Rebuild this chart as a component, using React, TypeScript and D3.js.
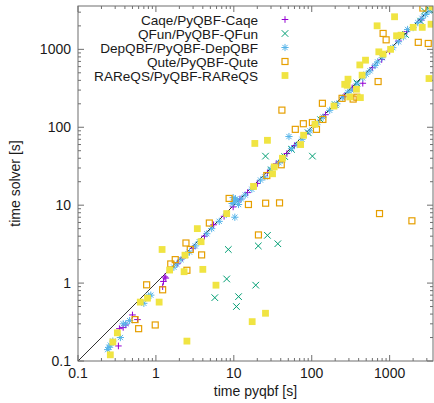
import React from "react";
import * as d3 from "d3";

// times in seconds: [time pyqbf, time solver]
const caqe = [
  [0.33, 0.156], [0.34, 0.26], [0.41, 0.29], [0.5, 0.39], [0.58, 0.34], [0.38, 0.27],
  [1.22, 0.9], [1.3, 1.2], [1.34, 1.16], [1.25, 1.05], [1.9, 1.8], [2.2, 2.1], [3.0, 2.8],
  [4.2, 4.0], [5.5, 5.6], [7.5, 7.2], [9.8, 9.5], [12, 12], [15, 14.5], [20, 19], [27, 26],
  [35, 34], [48, 46], [60, 58], [85, 82], [110, 108], [150, 145], [200, 190], [260, 250],
  [330, 320], [452, 367], [600, 580], [790, 740], [1000, 950], [1300, 1280], [1660, 1690],
  [2530, 2380],
];

const qfun = [
  [5.7, 0.65], [8.1, 1.13], [11.5, 0.67], [10.8, 0.5], [19.1, 0.94], [8.5, 2.7], [20.6, 3.0],
  [27, 4.1], [36.7, 3.2], [25.5, 42.6], [102, 42.6], [30, 28], [45, 42], [55, 52], [90, 85],
  [130, 125], [200, 195], [380, 370], [1600, 1550], [2500, 2300], [2800, 3100], [3300, 3200],
];

const depqbf = [
  [0.25, 0.15], [0.24, 0.14], [0.26, 0.16], [0.28, 0.18], [0.35, 0.2], [0.38, 0.3], [0.41, 0.3],
  [0.46, 0.33], [0.7, 0.55], [0.8, 0.68], [0.86, 0.7], [1.7, 1.6], [1.85, 1.75], [2.1, 2.0],
  [2.4, 2.3], [2.7, 2.5], [3.2, 3.0], [3.6, 3.4], [4.5, 4.3], [5.2, 5.0], [6.5, 6.2], [8, 7.6],
  [9.5, 10.5], [10, 11], [10.5, 12], [11, 11.5], [9.8, 12.5], [11.5, 10.2], [10.3, 7.0],
  [12.5, 12], [14, 13.5], [17, 16], [22, 21], [25, 23], [30, 29], [38, 35], [42, 38], [51, 76],
  [55, 53], [65, 60], [75, 70], [95, 90], [120, 115], [140, 135], [170, 165], [210, 200],
  [250, 240], [290, 280], [320, 300], [380, 360], [450, 430], [500, 480], [560, 530],
  [650, 620], [700, 690], [800, 780], [1100, 1050], [1300, 1250], [1500, 1450], [1700, 1800],
  [2000, 1900], [2300, 2200], [2600, 2500], [2900, 2800], [3200, 3100],
];

const qute = [
  [0.54, 0.34], [0.6, 0.26], [0.98, 0.29], [0.76, 0.95], [1.22, 0.82], [1.55, 1.76], [1.77, 2.0],
  [2.5, 1.46], [2.76, 2.7], [2.43, 3.27], [3.86, 2.3], [4.85, 5.9], [8.7, 12.2], [15.4, 10.2],
  [25.6, 10.6], [38.6, 10.7], [20.7, 4.15], [26.5, 24], [40.6, 33], [41.4, 166], [61.5, 94],
  [78, 111], [102, 115], [115, 94], [139, 126], [137, 203], [245, 235], [340, 230], [379, 243],
  [711, 386], [824, 1600], [901, 1325], [2330, 1230], [3130, 1190], [2670, 3390], [741, 7.8],
  [1930, 6.3],
];

const rareqs = [
  [0.26, 0.12], [0.28, 0.175], [0.32, 0.23], [0.63, 0.57], [0.78, 0.64], [1.1, 0.57], [2.5, 0.18],
  [4.0, 1.5], [5.9, 0.94], [17.2, 0.32], [25.5, 0.41], [1.5, 1.47], [2.3, 1.4], [1.2, 2.7],
  [2.36, 2.28], [3.4, 5.0], [3.8, 3.4], [8.1, 7.8], [17.9, 17.4], [18.6, 62], [27, 68],
  [31.4, 25.3], [33, 31], [42, 40], [72, 60], [78.6, 79], [110, 109], [193, 187], [265, 356],
  [285, 346], [292, 414], [307, 245], [375, 308], [421, 240], [414, 631], [443, 466], [490, 726],
  [726, 929], [824, 870], [1028, 1000], [1227, 1493], [1400, 1520], [690, 2005], [1156, 2620],
  [2005, 1915], [2620, 1915], [3400, 2100], [3200, 422], [3500, 3500],
];

const seriesNames = [
  "Caqe/PyQBF-Caqe",
  "QFun/PyQBF-QFun",
  "DepQBF/PyQBF-DepQBF",
  "Qute/PyQBF-Qute",
  "RAReQS/PyQBF-RAReQS",
];
const seriesColors = ["#9400d3", "#009e73", "#56b4e9", "#e69f00", "#f0e442"];
const seriesShapes = ["plus", "cross", "star", "square", "fsquare"];
const seriesData = [caqe, qfun, depqbf, qute, rareqs];

const majorTicks = [0.1, 1, 10, 100, 1000];
const majorLabels = ["0.1", "1", "10", "100", "1000"];

const W = 434, H = 403;
const M = { left: 78, right: 433, top: 6, bottom: 361 };
const FONT = "'Liberation Sans', Arial, sans-serif";

const Marker = ({ shape, color, x, y }) => {
  const s = shape === "star" ? 3.6 : 3.3;
  if (shape === "plus")
    return <path d={`M${x - s},${y}H${x + s}M${x},${y - s}V${y + s}`} stroke={color} strokeWidth={1} fill="none" />;
  if (shape === "cross")
    return <path d={`M${x - s},${y - s}L${x + s},${y + s}M${x - s},${y + s}L${x + s},${y - s}`} stroke={color} strokeWidth={1} fill="none" />;
  if (shape === "star")
    return <path d={`M${x - s},${y}H${x + s}M${x},${y - s}V${y + s}M${x - 2.6},${y - 2.6}L${x + 2.6},${y + 2.6}M${x - 2.6},${y + 2.6}L${x + 2.6},${y - 2.6}`} stroke={color} strokeWidth={1} fill="none" />;
  if (shape === "square")
    return <rect x={x - 3} y={y - 3} width={6} height={6} stroke={color} strokeWidth={1.2} fill="none" />;
  return <rect x={x - 3.4} y={y - 3.4} width={6.8} height={6.8} fill={color} />;
};

export default function App() {
  const x = d3.scaleLog().domain([0.1, 3600]).range([M.left, M.right]);
  const y = d3.scaleLog().domain([0.1, 3600]).range([M.bottom, M.top]);

  const minor = [];
  for (const d of majorTicks)
    for (let k = 2; k <= 9; k++) if (d * k <= 3600) minor.push(d * k);

  const axisColor = "#6f6f6f";
  const maj = 6, mn = 3;

  return (
    <svg width={W} height={H} style={{ position: "absolute", left: 0, top: 0, background: "#fff" }} fontFamily={FONT}>
      <defs>
        <clipPath id="plotclip">
          <rect x={M.left} y={M.top} width={M.right - M.left} height={M.bottom - M.top} />
        </clipPath>
      </defs>

      {/* ticks on all four sides */}
      <g stroke={axisColor} strokeWidth={1}>
        {majorTicks.map(t => (
          <g key={"M" + t}>
            <line x1={x(t)} x2={x(t)} y1={M.bottom} y2={M.bottom - maj} />
            <line x1={x(t)} x2={x(t)} y1={M.top} y2={M.top + maj} />
            <line y1={y(t)} y2={y(t)} x1={M.left} x2={M.left + maj} />
            <line y1={y(t)} y2={y(t)} x1={M.right} x2={M.right - maj} />
          </g>
        ))}
        {minor.map(t => (
          <g key={"m" + t}>
            <line x1={x(t)} x2={x(t)} y1={M.bottom} y2={M.bottom - mn} />
            <line x1={x(t)} x2={x(t)} y1={M.top} y2={M.top + mn} />
            <line y1={y(t)} y2={y(t)} x1={M.left} x2={M.left + mn} />
            <line y1={y(t)} y2={y(t)} x1={M.right} x2={M.right - mn} />
          </g>
        ))}
      </g>

      <g fontSize={14} fill="#1a1a1a">
        {majorTicks.map((t, i) => (
          <text key={"xl" + t} x={x(t)} y={378} textAnchor="middle">{majorLabels[i]}</text>
        ))}
        {majorTicks.map((t, i) => (
          <text key={"yl" + t} x={71} y={y(t) + 5} textAnchor="end">{majorLabels[i]}</text>
        ))}
      </g>

      <text x={(M.left + M.right) / 2} y={396} textAnchor="middle" fontSize={14} fill="#1a1a1a">time pyqbf [s]</text>
      <text transform={`translate(20,${(M.top + M.bottom) / 2}) rotate(-90)`} textAnchor="middle" fontSize={14} fill="#1a1a1a">time solver [s]</text>

      {/* legend */}
      <g fontSize={13.6} fill="#1a1a1a">
        {seriesNames.map((n, i) => (
          <g key={n}>
            <text x={258} y={19.5 + i * 14 + 5} textAnchor="end">{n}</text>
            <Marker shape={seriesShapes[i]} color={seriesColors[i]} x={285} y={19.5 + i * 14} />
          </g>
        ))}
      </g>

      <g clipPath="url(#plotclip)">
        <line x1={x(0.1)} y1={y(0.1)} x2={x(3600)} y2={y(3600)} stroke="#000" strokeWidth={0.8} />
        {seriesData.map((data, si) => (
          <g key={si}>
            {data.map((d, j) => (
              <Marker key={j} shape={seriesShapes[si]} color={seriesColors[si]} x={x(d[0])} y={y(d[1])} />
            ))}
          </g>
        ))}
      </g>

      <rect x={M.left} y={M.top} width={M.right - M.left} height={M.bottom - M.top} fill="none" stroke={axisColor} strokeWidth={1} />
    </svg>
  );
}
